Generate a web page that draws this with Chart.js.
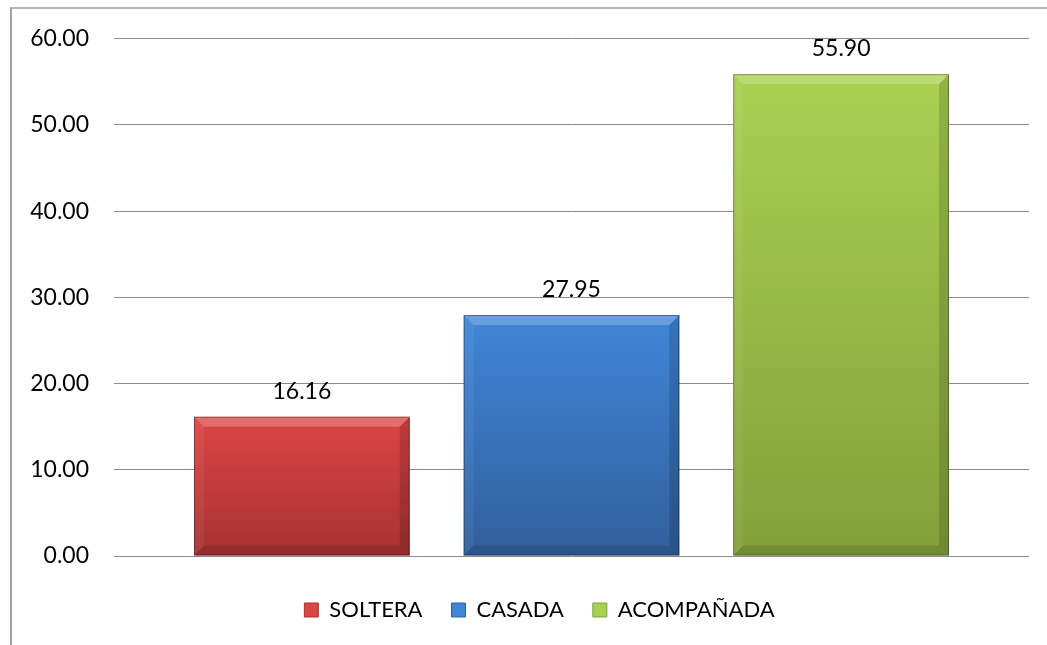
<!DOCTYPE html>
<html>
<head>
<meta charset="utf-8">
<script src="https://cdn.jsdelivr.net/npm/chart.js@4.4.0/dist/chart.umd.min.js"></script>
<style>
  body { margin: 0; background: #fff; }
  #wrap { position: relative; width: 1047px; height: 645px; overflow: hidden; }
  #frame { position: absolute; left: 10px; top: 7px; width: 1100px; height: 700px; border-left: 2px solid #a3a3a3; border-top: 2px solid #b5b5b5; }
  #chart { position: absolute; left: 0; top: 0; }
</style>
</head>
<body>
<div id="wrap">
  <div id="frame"></div>
  <canvas id="chart" width="1047" height="645"></canvas>
</div>
<script>
const seriesNames = ["SOLTERA", "CASADA", "ACOMPAÑADA"];
const seriesValues = [16.16, 27.95, 55.90];
const topColors = ["#dc4545", "#4086d8", "#a9d151"];
const bottomColors = ["#a63131", "#315f9c", "#82a03b"];
const yTicks = [0, 10, 20, 30, 40, 50, 60];

const FONT = "Lato, 'Open Sans', sans-serif";

function barFill(i) {
  return (ctx) => {
    const chart = ctx.chart;
    if (!chart.chartArea || !chart.scales.y) return topColors[i];
    const y = chart.scales.y;
    const g = chart.ctx.createLinearGradient(0, y.getPixelForValue(seriesValues[i]), 0, y.getPixelForValue(0));
    g.addColorStop(0, topColors[i]);
    g.addColorStop(1, bottomColors[i]);
    return g;
  };
}

// bevel edges + value labels over each bar
const bevelPlugin = {
  id: "bevel",
  afterLayout(chart) {
    // legend sits a bit right of centre in the original
    chart.legend.left += 50;
  },
  afterDatasetsDraw(chart) {
    const c = chart.ctx;
    chart.data.datasets.forEach((ds, i) => {
      const meta = chart.getDatasetMeta(i);
      meta.data.forEach((bar) => {
        const l = bar.x - bar.width / 2, r = bar.x + bar.width / 2;
        const t = bar.y, b = bar.base, e = 10;
        c.save();
        c.fillStyle = "rgba(255,255,255,0.22)";
        c.beginPath(); c.moveTo(l, t); c.lineTo(r, t); c.lineTo(r - e, t + e); c.lineTo(l + e, t + e); c.closePath(); c.fill();
        c.fillStyle = "rgba(255,255,255,0.06)";
        c.beginPath(); c.moveTo(l, t); c.lineTo(l + e, t + e); c.lineTo(l + e, b - e); c.lineTo(l, b); c.closePath(); c.fill();
        c.fillStyle = "rgba(0,0,0,0.14)";
        c.beginPath(); c.moveTo(r, t); c.lineTo(r, b); c.lineTo(r - e, b - e); c.lineTo(r - e, t + e); c.closePath(); c.fill();
        c.fillStyle = "rgba(0,0,0,0.12)";
        c.beginPath(); c.moveTo(l, b); c.lineTo(r, b); c.lineTo(r - e, b - e); c.lineTo(l + e, b - e); c.closePath(); c.fill();
        c.strokeStyle = "rgba(0,0,0,0.35)";
        c.lineWidth = 1;
        c.strokeRect(l + 0.5, t + 0.5, bar.width - 1, b - t - 1);
        c.fillStyle = "#000";
        c.font = "23px " + FONT;
        c.textAlign = "center";
        c.textBaseline = "alphabetic";
        c.fillText(ds.data[0].toFixed(2), bar.x, t - 18);
        c.restore();
      });
    });
  },
};

new Chart(document.getElementById("chart"), {
  type: "bar",
  data: {
    labels: [""],
    datasets: seriesNames.map((name, i) => ({
      label: name,
      data: [seriesValues[i]],
      backgroundColor: barFill(i),
      borderWidth: 0,
      categoryPercentage: 0.884,
      barPercentage: 0.80,
    })),
  },
  options: {
    responsive: false,
    animation: false,
    layout: { padding: { left: 0, right: 18, top: 38, bottom: 14 } },
    scales: {
      x: {
        grid: { display: false },
        border: { display: false },
        ticks: { display: false },
        afterFit(scale) { scale.height = 14; },
      },
      y: {
        min: 0,
        max: 60,
        afterBuildTicks(scale) { scale.ticks = yTicks.map((v) => ({ value: v })); },
        afterFit(scale) { scale.width = 114; },
        ticks: {
          padding: 25,
          color: "#000",
          font: { family: FONT, size: 23 },
          callback: (v) => Number(v).toFixed(2),
        },
        grid: { color: "#8a8a8a", lineWidth: 1, drawTicks: false },
        border: { display: false },
      },
    },
    plugins: {
      tooltip: { enabled: false },
      legend: {
        position: "bottom",
        labels: {
          color: "#000",
          font: { family: FONT, size: 22 },
          boxWidth: 14,
          boxHeight: 14,
          padding: 29,
          generateLabels: (chart) => seriesNames.map((name, i) => ({
            text: name,
            fillStyle: topColors[i],
            strokeStyle: bottomColors[i],
            lineWidth: 1,
            datasetIndex: i,
          })),
        },
      },
    },
  },
  plugins: [bevelPlugin],
});
</script>
</body>
</html>
